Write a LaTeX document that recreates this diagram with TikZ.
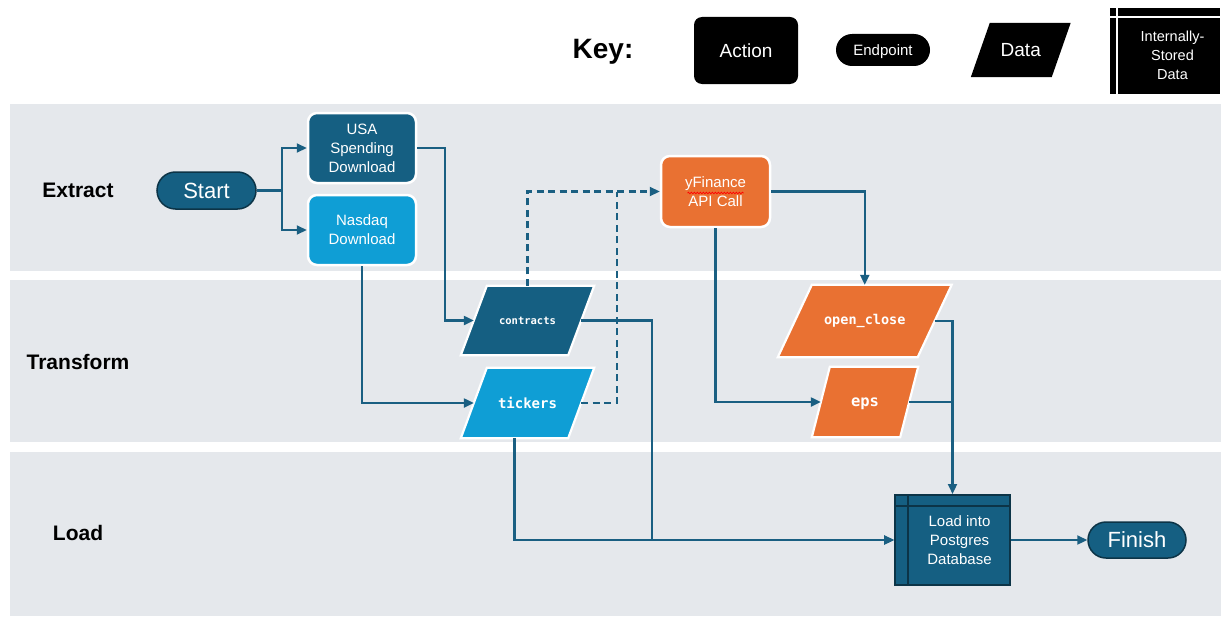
\documentclass[tikz,border=0pt]{standalone}
\usepackage{fontspec}
\setmainfont{Liberation Sans}
\newfontfamily\monof{DejaVu Sans Mono}
\usetikzlibrary{arrows.meta,calc,shapes.misc,decorations.pathmorphing}
\definecolor{band}{HTML}{E5E8EC}
\definecolor{dblue}{HTML}{155F82}
\definecolor{lblue}{HTML}{0F9ED5}
\definecolor{orng}{HTML}{E97132}
\definecolor{lnc}{HTML}{1A5F82}
\definecolor{edgec}{HTML}{0C3447}
\pgfdeclarelayer{bands}
\pgfdeclarelayer{shapes}
\pgfsetlayers{bands,shapes,main}
\newcommand\paral[3]{%
  \begin{pgfonlayer}{shapes}
  \filldraw[fill=#3, draw=white, line width=2.2pt, line join=miter]
    ($(#1.south west)+(-#2,0)$) -- ($(#1.north west)+(#2,0)$) --
    ($(#1.north east)+(#2,0)$) -- ($(#1.south east)+(-#2,0)$) -- cycle;
  \end{pgfonlayer}}
\begin{document}
\begin{tikzpicture}[x=1pt,y=-1pt,
  fs/.style 2 args={font=\fontsize{#1}{#2}\selectfont},
  action/.style={rectangle, rounded corners=9pt, draw=white, line width=2.5pt,
    text=white, align=center, inner sep=0pt, fs={15}{19}},
  endpt/.style={rounded rectangle, fill=dblue, draw=edgec, line width=1.5pt,
    text=white, inner sep=0pt, fs={22}{26}},
  datanode/.style={rectangle, inner sep=0pt, text=white},
  bandlbl/.style={font=\fontsize{21}{25}\selectfont\bfseries},
  wire/.style={draw=lnc, line width=2.2pt},
  arr/.style={wire, -{Triangle[length=10pt,width=9pt]}},
  dsh/.style={dash pattern=on 7pt off 4.5pt}
]
\useasboundingbox (0,0) rectangle (1231,626);
% bands
\begin{pgfonlayer}{bands}
\fill[white] (0,0) rectangle (1231,626);
\fill[band] (10,104) rectangle (1221,271);
\fill[band] (10,280) rectangle (1221,442);
\fill[band] (10,452) rectangle (1221,616);
\end{pgfonlayer}
\node[bandlbl] (lx) at (78,190) {Extract};
\node[bandlbl] (lt) at (78,362) {Transform};
\node[bandlbl] (ll) at (78,533) {Load};

% key
\node[font=\fontsize{28}{32}\selectfont\bfseries] (key) at (603,52) {Key:};
\node[rectangle, rounded corners=8pt, fill=black, text=white, minimum width=104pt,
  minimum height=67pt, inner sep=0pt, fs={19}{22}] (kaction) at (746,50.5) {Action};
\node[rounded rectangle, fill=black, text=white, minimum width=94pt,
  minimum height=32pt, inner sep=0pt, fs={15}{17}] (kend) at (883,50)
  {\raisebox{-5.5pt}[0pt][0pt]{Endpoint}};
\node[datanode, fs={19}{22}, minimum width=80.5pt,
  minimum height=54pt] (kdata) at (1020.75,50) {Data};
\begin{pgfonlayer}{shapes}
\fill[black] ($(kdata.south west)+(-9.5,0)$) -- ($(kdata.north west)+(9.5,0)$) --
  ($(kdata.north east)+(9.5,0)$) -- ($(kdata.south east)+(-9.5,0)$) -- cycle;
\end{pgfonlayer}
\node[rectangle, fill=black, text=white, minimum width=110pt, minimum height=86pt,
  inner sep=0pt, align=center, fs={14.5}{19}] (kstore) at (1165,51)
  {\mbox{}\\[0pt]\hspace*{15pt}Internally-\\\hspace*{15pt}Stored\\\hspace*{15pt}Data};
\draw[white, line width=2.5pt] ($(kstore.north west)+(7,0)$) -- ($(kstore.south west)+(7,0)$);
\draw[white, line width=2.5pt] ($(kstore.north west)+(0,9)$) -- ($(kstore.north east)+(0,9)$);

% process nodes
\node[endpt, minimum width=99pt, minimum height=37pt] (start) at (206.5,190.5) {Start};
\node[action, fill=dblue, minimum width=108pt, minimum height=70pt] (usa) at (362,148)
  {USA\\Spending\\Download};
\node[action, fill=lblue, minimum width=108pt, minimum height=70pt] (nasdaq) at (362,230)
  {Nasdaq\\Download};
\node[action, fill=orng, minimum width=109pt, minimum height=71pt] (yfin) at (715.5,191.5)
  {yFinance\\API Call};
\draw[red, line width=0.7pt, decorate, decoration={snake, amplitude=0.8pt, segment length=3pt}]
  ($(yfin.center)+(-28,1.5)$) -- ($(yfin.center)+(28,1.5)$);

\node[datanode, fs={10.5}{13}, minimum width=107pt, minimum height=69pt] (contracts)
  at (527.5,320.5) {\monof\bfseries contracts};
\paral{contracts}{13}{dblue}
\node[datanode, fs={14}{17}, minimum width=107pt, minimum height=70pt] (tickers)
  at (527.5,403) {\monof\bfseries tickers};
\paral{tickers}{13}{lblue}
\node[datanode, fs={13.5}{16}, minimum width=139.5pt, minimum height=72pt] (oc)
  at (864.75,321) {\monof\bfseries open\_close};
\paral{oc}{17}{orng}
\node[datanode, fs={15.5}{18}, minimum width=88pt, minimum height=70pt] (eps)
  at (865,402) {\raisebox{-4.5pt}[0pt][0pt]{\monof\bfseries eps}};
\paral{eps}{9}{orng}

\node[rectangle, fill=dblue, draw=edgec, line width=2pt, text=white, align=center,
  minimum width=115pt, minimum height=90pt, inner sep=0pt, fs={15}{19}] (load) at (952.5,540)
  {\hspace*{14pt}Load into\\\hspace*{14pt}Postgres\\\hspace*{14pt}Database};
\draw[edgec, line width=2pt] ($(load.north west)+(14,0)$) -- ($(load.south west)+(14,0)$);
\draw[edgec, line width=2pt] ($(load.north west)+(0,12)$) -- ($(load.north east)+(0,12)$);
\node[endpt, minimum width=98pt, minimum height=36pt] (finish) at (1137,540) {Finish};

% connectors
\draw[arr] (start.east) -- ++(25,0) |- (usa.west);
\draw[arr] (start.east) -- ++(25,0) |- (nasdaq.west);
\draw[arr] (usa.east) -- ++(28,0) |- (contracts.west);
\draw[arr] (nasdaq.south) |- (tickers.west);
\draw[arr, dsh] (contracts.north) |- (yfin.west);
\draw[wire, dsh] (tickers.east) -| ($(yfin.west)+(-43,0)$);
\draw[arr] (contracts.east) -- ++(71,0) |- (load.west);
\draw[arr] ($(tickers.south)+(-13,0)$) |- (load.west);
\draw[arr] (yfin.east) -| (oc.north);
\draw[arr] (yfin.south) |- (eps.west);
\draw[arr] (oc.east) -| (load.north);
\draw[wire] (eps.east) -- (eps.east -| load.north);
\draw[arr] (load.east) -- (finish.west);
\end{tikzpicture}
\end{document}
